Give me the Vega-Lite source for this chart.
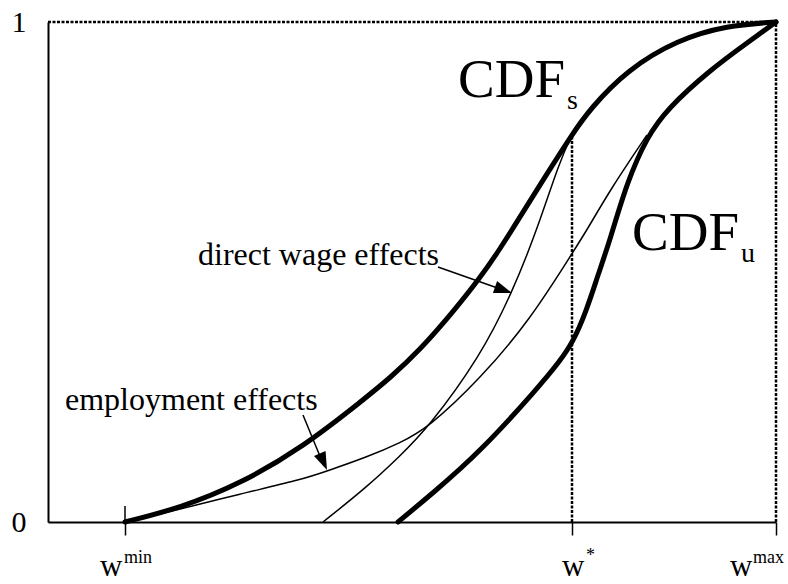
{
  "$schema": "https://vega.github.io/schema/vega-lite/v6.json",
  "width": 728,
  "height": 500,
  "autosize": {"type": "none"},
  "padding": {"left": 48, "top": 22, "right": 12, "bottom": 62},
  "config": {"view": {"stroke": null}, "font": "Liberation Serif"},
  "datasets": {
    "thick": [
      {"series": "s", "x": 125, "y": 0}, {"series": "s", "x": 180, "y": 0.028},
      {"series": "s", "x": 240, "y": 0.076}, {"series": "s", "x": 303, "y": 0.15}, {"series": "s", "x": 363, "y": 0.244},
      {"series": "s", "x": 390, "y": 0.288}, {"series": "s", "x": 420, "y": 0.344}, {"series": "s", "x": 453, "y": 0.42},
      {"series": "s", "x": 480, "y": 0.488}, {"series": "s", "x": 500, "y": 0.546}, {"series": "s", "x": 520, "y": 0.61},
      {"series": "s", "x": 543, "y": 0.684}, {"series": "s", "x": 573, "y": 0.778}, {"series": "s", "x": 590, "y": 0.826},
      {"series": "s", "x": 627, "y": 0.904}, {"series": "s", "x": 677, "y": 0.964}, {"series": "s", "x": 727, "y": 0.993},
      {"series": "s", "x": 776, "y": 1},
      {"series": "u", "x": 398, "y": 0}, {"series": "u", "x": 433, "y": 0.058}, {"series": "u", "x": 480, "y": 0.14},
      {"series": "u", "x": 537, "y": 0.266}, {"series": "u", "x": 560, "y": 0.322}, {"series": "u", "x": 573, "y": 0.36},
      {"series": "u", "x": 586, "y": 0.42}, {"series": "u", "x": 598, "y": 0.494},
      {"series": "u", "x": 610, "y": 0.564}, {"series": "u", "x": 627, "y": 0.68}, {"series": "u", "x": 647, "y": 0.77},
      {"series": "u", "x": 667, "y": 0.826}, {"series": "u", "x": 710, "y": 0.904}, {"series": "u", "x": 747, "y": 0.958},
      {"series": "u", "x": 776, "y": 1}
    ],
    "thin": [
      {"series": "d", "x": 323, "y": 0}, {"series": "d", "x": 367, "y": 0.07}, {"series": "d", "x": 400, "y": 0.132},
      {"series": "d", "x": 428, "y": 0.188}, {"series": "d", "x": 480, "y": 0.33}, {"series": "d", "x": 512, "y": 0.458},
      {"series": "d", "x": 537, "y": 0.584}, {"series": "d", "x": 560, "y": 0.724}, {"series": "d", "x": 573, "y": 0.778},
      {"series": "e", "x": 125, "y": 0}, {"series": "e", "x": 173, "y": 0.022}, {"series": "e", "x": 240, "y": 0.056},
      {"series": "e", "x": 300, "y": 0.084}, {"series": "e", "x": 327, "y": 0.102}, {"series": "e", "x": 367, "y": 0.13},
      {"series": "e", "x": 400, "y": 0.158}, {"series": "e", "x": 428, "y": 0.188}, {"series": "e", "x": 480, "y": 0.286},
      {"series": "e", "x": 530, "y": 0.404}, {"series": "e", "x": 573, "y": 0.54}, {"series": "e", "x": 587, "y": 0.584},
      {"series": "e", "x": 610, "y": 0.664}, {"series": "e", "x": 647, "y": 0.774}
    ]
  },
  "encoding": {
    "x": {"field": "x", "type": "quantitative", "scale": {"domain": [48, 776], "nice": false, "zero": false},
      "axis": {"values": [125, 572, 776], "labels": false, "title": null, "grid": false, "tickSize": 13, "tickWidth": 1.5, "tickColor": "black", "domainColor": "black", "domainWidth": 2}},
    "y": {"field": "y", "type": "quantitative", "scale": {"domain": [0, 1], "nice": false, "zero": false},
      "axis": {"values": [0, 1], "format": "d", "title": null, "grid": false, "ticks": false, "tickSize": 0, "labelPadding": 22, "labelFontSize": 30, "labelFont": "Liberation Serif", "labelColor": "black", "labelBaseline": "middle", "domainColor": "black", "domainWidth": 2}}
  },
  "layer": [
    {
      "data": {"values": [
        {"x": 48, "y": 1, "x2": 776, "y2": 1},
        {"x": 776, "y": 0, "x2": 776, "y2": 1},
        {"x": 572, "y": 0, "x2": 572, "y2": 0.778}
      ]},
      "mark": {"type": "rule", "color": "black", "strokeWidth": 2.5, "strokeDash": [3, 1.5]},
      "encoding": {"x2": {"field": "x2"}, "y2": {"field": "y2"}}
    },
    {
      "data": {"values": [{"x": 125, "y": 0, "x2": 125, "y2": 0.032}]},
      "mark": {"type": "rule", "color": "black", "strokeWidth": 1.5},
      "encoding": {"x2": {"field": "x2"}, "y2": {"field": "y2"}}
    },
    {
      "data": {"name": "thin"},
      "mark": {"type": "line", "interpolate": "basis", "color": "black", "strokeWidth": 1.5},
      "encoding": {"detail": {"field": "series"}}
    },
    {
      "data": {"name": "thick"},
      "mark": {"type": "line", "interpolate": "basis", "color": "black", "strokeWidth": 5, "strokeCap": "round"},
      "encoding": {"detail": {"field": "series"}}
    },
    {
      "data": {"values": [
        {"x": 438, "y": 0.51, "x2": 506, "y2": 0.462},
        {"x": 303, "y": 0.214, "x2": 324, "y2": 0.112}
      ]},
      "mark": {"type": "rule", "color": "black", "strokeWidth": 1.5},
      "encoding": {"x2": {"field": "x2"}, "y2": {"field": "y2"}}
    },
    {
      "data": {"values": [{"x": 512, "y": 0.458}]},
      "mark": {"type": "point", "shape": "M0,0L0.7,2L-0.7,2Z", "filled": true, "color": "black", "opacity": 1, "size": 324, "angle": 109.4}
    },
    {
      "data": {"values": [{"x": 327, "y": 0.104}]},
      "mark": {"type": "point", "shape": "M0,0L0.7,2L-0.7,2Z", "filled": true, "color": "black", "opacity": 1, "size": 324, "angle": 156.4}
    },
    {
      "data": {"values": [
        {"x": 198, "y": 0.514, "label": "direct wage effects"},
        {"x": 65, "y": 0.224, "label": "employment effects"}
      ]},
      "mark": {"type": "text", "align": "left", "baseline": "alphabetic", "fontSize": 32, "font": "Liberation Serif", "color": "black"},
      "encoding": {"text": {"field": "label"}}
    },
    {
      "data": {"values": [
        {"x": 100, "y": -0.108, "label": "w"},
        {"x": 562, "y": -0.108, "label": "w"},
        {"x": 730, "y": -0.108, "label": "w"}
      ]},
      "mark": {"type": "text", "align": "left", "baseline": "alphabetic", "fontSize": 31, "font": "Liberation Serif", "color": "black"},
      "encoding": {"text": {"field": "label"}}
    },
    {
      "data": {"values": [
        {"x": 458, "y": 0.85, "label": "CDF"},
        {"x": 632, "y": 0.544, "label": "CDF"}
      ]},
      "mark": {"type": "text", "align": "left", "baseline": "alphabetic", "fontSize": 55, "font": "Liberation Serif", "color": "black"},
      "encoding": {"text": {"field": "label"}}
    },
    {
      "data": {"values": [
        {"x": 567, "y": 0.826, "label": "s"},
        {"x": 741, "y": 0.52, "label": "u"}
      ]},
      "mark": {"type": "text", "align": "left", "baseline": "alphabetic", "fontSize": 28, "font": "Liberation Serif", "color": "black"},
      "encoding": {"text": {"field": "label"}}
    },
    {
      "data": {"values": [
        {"x": 124, "y": -0.082, "label": "min"},
        {"x": 586, "y": -0.078, "label": "*"},
        {"x": 753, "y": -0.082, "label": "max"}
      ]},
      "mark": {"type": "text", "align": "left", "baseline": "alphabetic", "fontSize": 18, "font": "Liberation Serif", "color": "black"},
      "encoding": {"text": {"field": "label"}}
    }
  ]
}
